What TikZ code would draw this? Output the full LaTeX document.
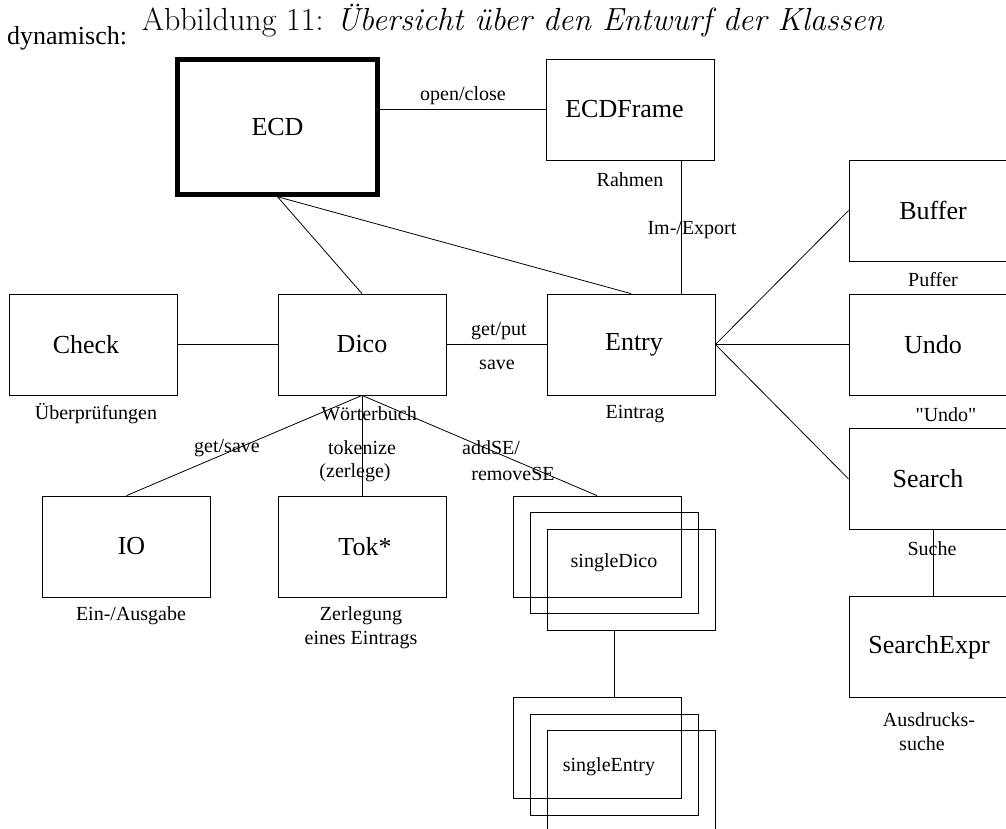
\documentclass[tikz,border=0pt]{standalone}
\usepackage{fontspec}
\newfontfamily\tms{Liberation Serif}
\usetikzlibrary{calc}
\begin{document}
\begin{tikzpicture}[x=1pt,y=-1pt,
  box/.style={draw,line width=0.8pt,rectangle,inner sep=0pt,minimum width=168pt,minimum height=101pt,font=\tms\fontsize{26}{30}\selectfont},
  sbox/.style={draw,line width=0.8pt,rectangle,inner sep=0pt,minimum width=168pt,minimum height=101pt,font=\tms\fontsize{20}{24}\selectfont},
  bigtext/.style={font=\tms\fontsize{26}{30}\selectfont,inner sep=0pt},
  lbl/.style={font=\tms\fontsize{20}{24}\selectfont,inner sep=0pt},
  conn/.style={line width=0.8pt}]
\useasboundingbox (0,0) rectangle (1006,828);
\clip (0,0) rectangle (1006,828);

% title
\node[anchor=base,inner sep=0pt] (title) at (513,30) {\fontsize{32}{36}\selectfont Abbildung 11: \textit{Übersicht über den Entwurf der Klassen}};
\node[anchor=base west,inner sep=0pt,font=\tms\fontsize{26}{30}\selectfont] (dyn) at (7,44) {dynamisch:};

% boxes
\node[box,line width=4.5pt,minimum width=200pt,minimum height=135pt] (ECD) at (277.5,127) {ECD};
\node[box,label={[bigtext,xshift=-6pt]center:ECDFrame}] (ECDFrame) at (630.5,109.5) {};
\node[box] (Buffer) at (933,210.5) {Buffer};
\node[box,label={[bigtext,xshift=-7pt]center:Check}] (Check) at (93,344.5) {};
\node[box] (Dico) at (362,344.5) {Dico};
\node[box,label={[bigtext,xshift=3pt]center:Entry}] (Entry) at (631,344.5) {};
\node[box] (Undo) at (933,344.5) {Undo};
\node[box,label={[bigtext,xshift=-5pt]center:Search}] (Search) at (933,479) {};
\node[box,label={[bigtext,xshift=-4pt]center:SearchExpr}] (SearchExpr) at (933,647) {};
\node[box,label={[bigtext,xshift=5pt]center:IO}] (IO) at (126.5,546.5) {};
\node[box,label={[bigtext,xshift=3pt]center:Tok*}] (Tok) at (362,546.5) {};

\node[sbox] (sd1) at (597,546.5) {};
\node[sbox] (sd2) at (614,563) {singleDico};
\node[sbox] (sd3) at (631,579.5) {};
\node[sbox] (se1) at (597,748) {};
\node[sbox,label={[lbl,xshift=-5pt,yshift=-2pt]center:singleEntry}] (se2) at (614,764.5) {};
\node[sbox] (se3) at (631,781) {};

% connectors
\draw[conn] (ECD.east |- ECDFrame.west) -- (ECDFrame.west);
\draw[conn] (ECD.south) -- (Dico.north);
\draw[conn] (ECD.south) -- (Entry.north);
\coordinate (ie) at ($(ECDFrame.south west)!0.8!(ECDFrame.south east)$);
\draw[conn] (ie) -- (ie |- Entry.north);
\draw[conn] (Check.east) -- (Dico.west);
\draw[conn] (Dico.east) -- (Entry.west);
\draw[conn] (Entry.east) -- (Buffer.west);
\draw[conn] (Entry.east) -- (Undo.west);
\draw[conn] (Entry.east) -- (Search.west);
\draw[conn] (Search.south) -- (SearchExpr.north);
\draw[conn] (Dico.south) -- (IO.north);
\draw[conn] (Dico.south) -- (Tok.north);
\draw[conn] (Dico.south) -- (sd1.north);
\draw[conn] (sd3.south -| sd2.center) -- (se1.north -| sd2.center);

% labels
\node[lbl] (l1) at (463,96) {open/close};
\node[lbl] (l2) at (630,180) {Rahmen};
\node[lbl] (l3) at (692,230) {Im-/Export};
\node[lbl] (l4) at (933,280) {Puffer};
\node[lbl] (l5) at (96,414) {Überprüfungen};
\node[lbl] (l6) at (369,414) {Wörterbuch};
\node[lbl] (l7) at (499,331) {get/put};
\node[lbl] (l8) at (497,365) {save};
\node[lbl] (l9) at (635,414) {Eintrag};
\node[lbl] (l10) at (946,415) {"Undo"};
\node[lbl] (l11) at (227,448) {get/save};
\node[lbl] (l12) at (362,448) {tokenize};
\node[lbl] (l13) at (355,473) {(zerlege)};
\node[lbl] (l14) at (491,448) {addSE/};
\node[lbl] (l15) at (513,474) {removeSE};
\node[lbl] (l16) at (131,616) {Ein-/Ausgabe};
\node[lbl] (l17) at (361,616) {Zerlegung};
\node[lbl] (l18) at (361,640) {eines Eintrags};
\node[lbl] (l19) at (932,549) {Suche};
\node[lbl] (l20) at (929,720) {Ausdrucks-};
\node[lbl] (l21) at (922,744) {suche};
\end{tikzpicture}
\end{document}
